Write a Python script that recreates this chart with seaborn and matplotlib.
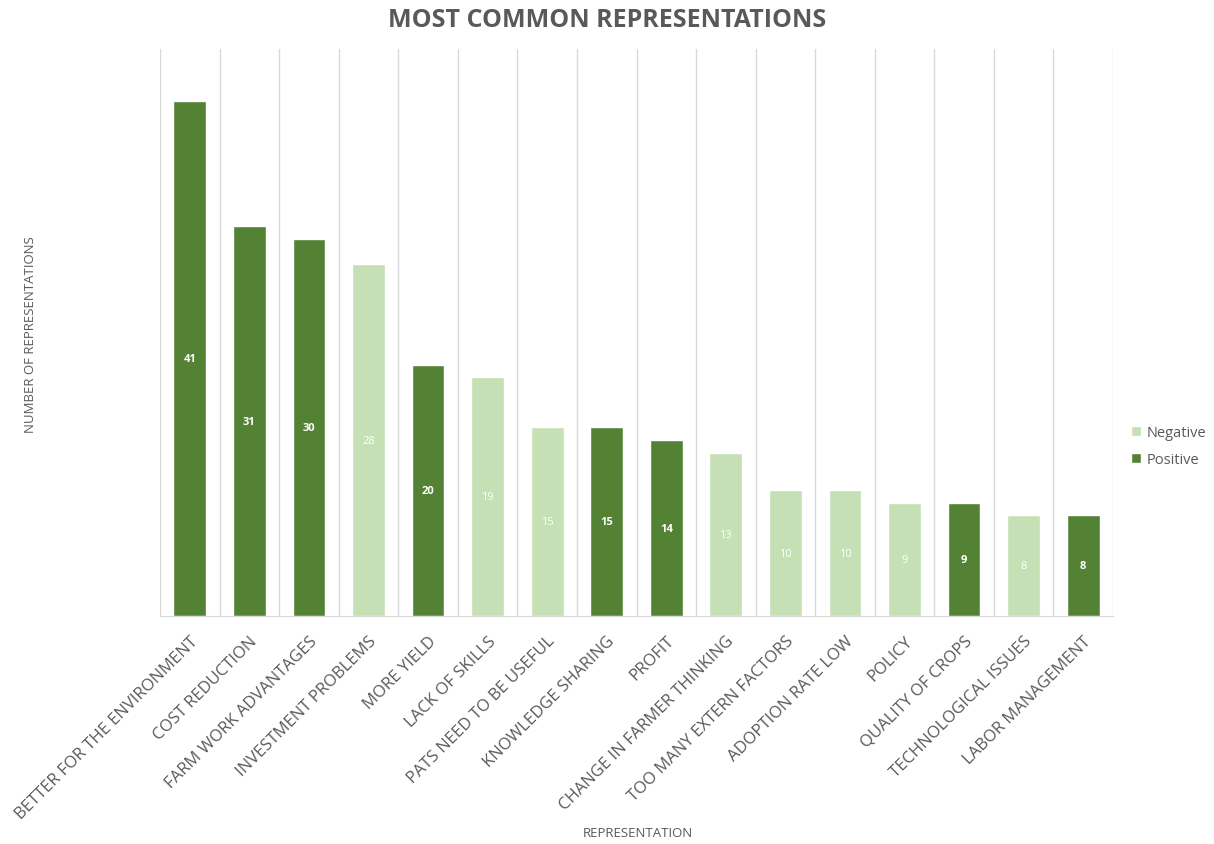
import pandas as pd
import seaborn as sns
import matplotlib.pyplot as plt

categories = [
    "BETTER FOR THE ENVIRONMENT", "COST REDUCTION", "FARM WORK ADVANTAGES",
    "INVESTMENT PROBLEMS", "MORE YIELD", "LACK OF SKILLS",
    "PATS NEED TO BE USEFUL", "KNOWLEDGE SHARING", "PROFIT",
    "CHANGE IN FARMER THINKING", "TOO MANY EXTERN FACTORS",
    "ADOPTION RATE LOW", "POLICY", "QUALITY OF CROPS",
    "TECHNOLOGICAL ISSUES", "LABOR MANAGEMENT",
]
counts = [41, 31, 30, 28, 20, 19, 15, 15, 14, 13, 10, 10, 9, 9, 8, 8]
sentiment = [
    "Positive", "Positive", "Positive", "Negative", "Positive", "Negative",
    "Negative", "Positive", "Positive", "Negative", "Negative", "Negative",
    "Negative", "Positive", "Negative", "Positive",
]

df = pd.DataFrame({"representation": categories, "count": counts,
                   "sentiment": sentiment})

palette = {"Negative": "#C5E0B4", "Positive": "#548235"}
gray = "#595959"

sns.set_style("white")
plt.rcParams['font.family'] = ['Open Sans', 'DejaVu Sans']

fig = plt.figure(figsize=(12.14, 8.45), dpi=100)
ax = fig.add_axes([0.1318, 0.2698, 0.785, 0.671])

sns.barplot(
    data=df, x="representation", y="count", hue="sentiment",
    hue_order=["Negative", "Positive"], palette=palette,
    dodge=False, width=0.55, order=categories, ax=ax, saturation=1,
)

# value labels in the middle of each bar
for i, (c, s) in enumerate(zip(counts, sentiment)):
    ax.text(i, c / 2, str(c), ha="center", va="center", color="white",
            fontsize=8, fontweight="bold" if s == "Positive" else "normal")

ax.set_ylim(0, 45.1)
ax.set_xlim(-0.5, len(categories) - 0.5)
ax.set_yticks([])
for b in range(len(categories) + 1):
    ax.axvline(b - 0.5, color="#D9D9D9", lw=1, zorder=0)

for sp in ["top", "right", "left"]:
    ax.spines[sp].set_visible(False)
ax.spines["bottom"].set_color("#D9D9D9")

ax.set_xticks(range(len(categories)))
ax.set_xticklabels(categories, rotation=45, ha="right",
                   rotation_mode="anchor", color=gray, fontsize=12)
ax.tick_params(axis="x", length=0, pad=12)

ax.set_xlabel("")
ax.set_ylabel("")
fig.text(0.525, 0.006, "REPRESENTATION", color=gray, fontsize=9.5,
         ha="center", va="bottom")
fig.text(0.025, 0.604, "NUMBER OF REPRESENTATIONS", color=gray, fontsize=9.5,
         rotation=90, ha="center", va="center")
fig.text(0.5, 0.99, "MOST COMMON REPRESENTATIONS", color=gray, fontsize=18,
         fontweight="bold", ha="center", va="top")

leg = ax.legend(loc="center left", bbox_to_anchor=(1.005, 0.3), frameon=False,
                fontsize=10.5, handlelength=0.7, handleheight=0.7,
                handletextpad=0.4, labelspacing=0.8)
for t in leg.get_texts():
    t.set_color(gray)

fig.savefig("out.png", dpi=100)
